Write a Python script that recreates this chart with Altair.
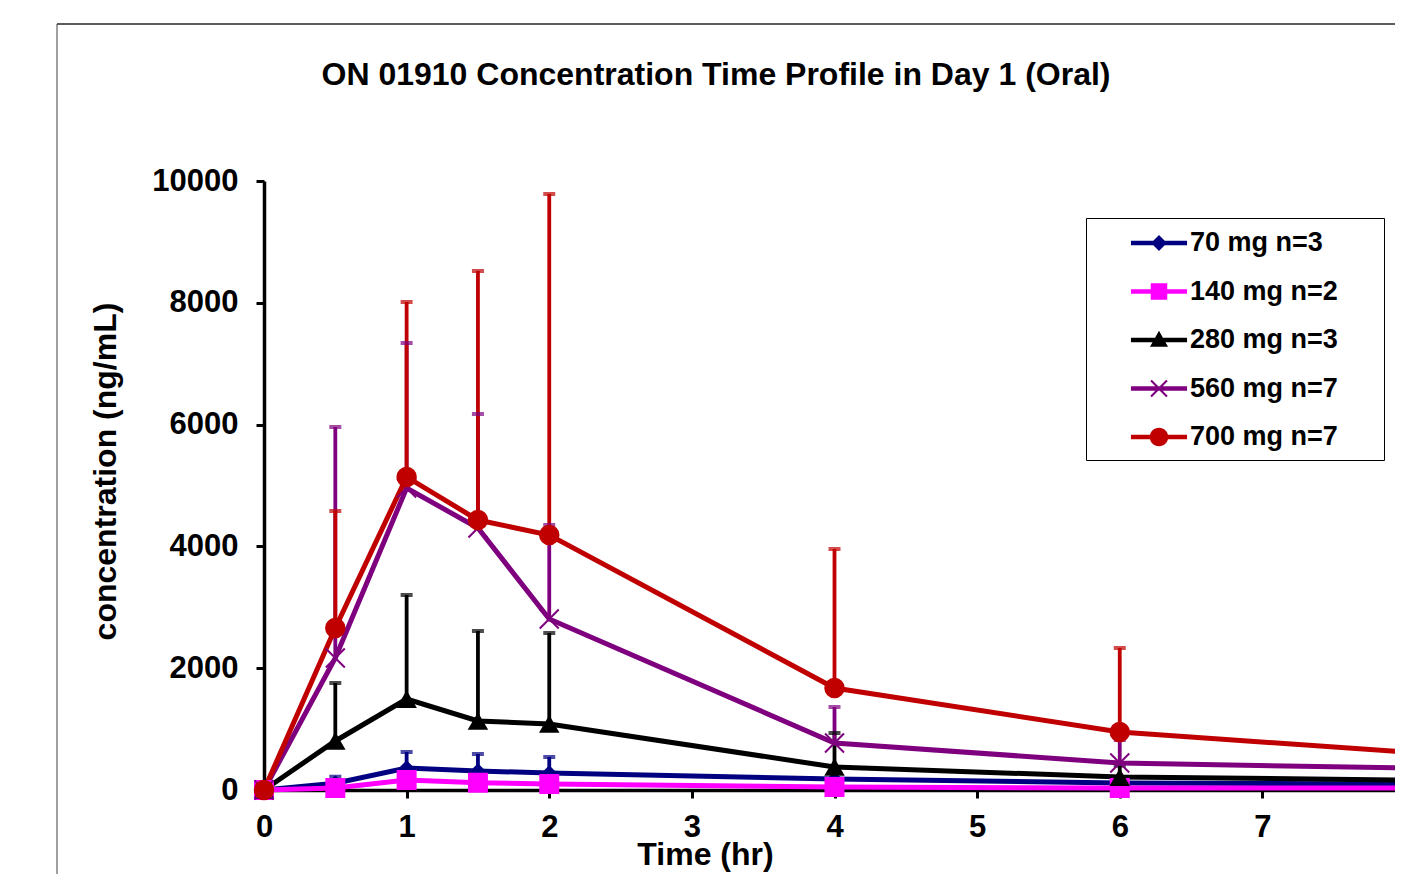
import altair as alt
import pandas as pd

# ---------------- data ----------------
times = [0, 0.5, 1, 1.5, 2, 4, 6, 8]
series_names = ["70 mg n=3", "140 mg n=2", "280 mg n=3", "560 mg n=7", "700 mg n=7"]

mean_70 = [0, 110, 361, 312, 279, 180, 115, 98]
upper_70 = [0, 218, 624, 591, 542, 290, 190, 150]
mean_140 = [0, 33, 164, 120, 98, 49, 33, 33]
upper_140 = [0, 50, 220, 170, 140, 80, 55, 50]
mean_280 = [0, 805, 1494, 1133, 1084, 378, 213, 164]
upper_280 = [0, 1757, 3202, 2611, 2578, 936, 400, 320]
mean_560 = [0, 2167, 4959, 4302, 2808, 772, 443, 361]
upper_560 = [0, 5961, 7340, 6174, 4351, 1363, 821, 575]
mean_700 = [0, 2660, 5140, 4433, 4187, 1675, 952, 624]
upper_700 = [0, 4581, 8013, 8522, 9787, 3957, 2332, 1478]

y_ticks = [0, 2000, 4000, 6000, 8000, 10000]
x_ticks = [0, 1, 2, 3, 4, 5, 6, 7, 8]
title_text = "ON 01910 Concentration Time Profile in Day 1 (Oral)"

colors = ["#000080", "#FF00FF", "#000000", "#7F007F", "#C00000"]

means = [mean_70, mean_140, mean_280, mean_560, mean_700]
uppers = [upper_70, upper_140, upper_280, upper_560, upper_700]
rows = []
for i, (name, ms, us) in enumerate(zip(series_names, means, uppers)):
    for t, m, u in zip(times, ms, us):
        rows.append({"series": name, "t": t, "mean": m, "upper": u, "k": i})
df = pd.DataFrame(rows)

FONT = "Liberation Sans"

# ---------------- scales / axes ----------------
xscale = alt.Scale(domain=[0, 8], range=[0, 1141], nice=False, zero=False)
yscale = alt.Scale(domain=[0, 10000], nice=False)
cscale = alt.Scale(domain=series_names, range=colors)

xaxis = alt.Axis(values=x_ticks, format="d", grid=False,
                 labelFont=FONT, labelFontSize=31, labelFontWeight="bold", labelColor="black",
                 labelPadding=14, labelFlush=False, labelOverlap=False,
                 domainColor="black", domainWidth=3.5, tickColor="black", tickWidth=3, tickSize=8,
                 title="Time (hr)", titleFont=FONT, titleFontSize=32, titleFontWeight="bold",
                 titleColor="black", titleX=441, titleY=74, titleAlign="center",
                 titleBaseline="alphabetic")
yaxis = alt.Axis(values=y_ticks, format="d", grid=False,
                 labelFont=FONT, labelFontSize=31, labelFontWeight="bold", labelColor="black",
                 labelPadding=18,
                 domainColor="black", domainWidth=3.5, tickColor="black", tickWidth=3, tickSize=8,
                 title="concentration (ng/mL)", titleFont=FONT, titleFontSize=32,
                 titleFontWeight="bold", titleColor="black", titleX=-159, titleY=290,
                 titleAngle=-90, titleAlign="center", titleBaseline="middle")

X = alt.X("t:Q", scale=xscale, axis=xaxis)
Y = alt.Y("mean:Q", scale=yscale, axis=yaxis)
C = alt.Color("series:N", scale=cscale)

base = alt.Chart(df)

# legend symbols: line with marker, as custom paths (unit = 15 px)
LINE = "M-1.87,-0.15L1.87,-0.15L1.87,0.15L-1.87,0.15Z"
legend_paths = [
    LINE + "M0,-0.53L0.53,0L0,0.53L-0.53,0Z",
    LINE + "M-0.55,-0.55L0.55,-0.55L0.55,0.55L-0.55,0.55Z",
    LINE + "M0,-0.62L0.6,0.45L-0.6,0.45Z",
    LINE + "M-0.48,-0.58L0.58,0.48L0.48,0.58L-0.58,-0.48Z"
           "M-0.58,0.48L0.48,-0.58L0.58,-0.48L-0.48,0.58Z",
    LINE + "M-0.62,0A0.62,0.62 0 1,1 0.62,0A0.62,0.62 0 1,1 -0.62,0Z",
]
spacer = "\u00a0" * 4
leg = alt.Legend(title=spacer, titleOrient="right", titlePadding=36, titleFontSize=27,
                 titleFont=FONT,
                 orient="none", legendX=822, legendY=37, direction="vertical",
                 fillColor="white", symbolOpacity=1, symbolSize=900,
                 symbolOffset=48, labelOffset=16,
                 labelFont=FONT, labelFontSize=27, labelFontWeight="bold", labelColor="black",
                 symbolStrokeWidth=0, labelLimit=400)
legend_layer = base.mark_point(filled=True, size=900, opacity=0).encode(
    x=X, y=Y,
    color=alt.Color("series:N", scale=cscale, legend=leg),
    shape=alt.Shape("series:N", scale=alt.Scale(domain=series_names, range=legend_paths), legend=leg))

# error bars (upper only) and caps
bars = base.transform_filter("datum.t > 0").mark_rule(strokeWidth=3.8).encode(
    x=X, y=Y, y2="upper:Q", color=C, order="k:Q")
caps = base.transform_filter("datum.t > 0").mark_tick(
    orient="horizontal", size=12, thickness=4).encode(
    x=X, y=alt.Y("upper:Q", scale=yscale, axis=yaxis), color=C, order="k:Q")

lines = base.mark_line(strokeWidth=5).encode(x=X, y=Y, color=C)

X_PATH = "M-1,-1L1,1M-1,1L1,-1"
point_shapes = ["diamond", "square", "triangle-up", X_PATH, "circle"]
point_sizes = [240, 400, 420, 360, 420]
point_layers = []
for i, name in enumerate(series_names):
    filled = i != 3
    pl = base.transform_filter(alt.datum.series == name).mark_point(
        shape=point_shapes[i], size=point_sizes[i], filled=filled, opacity=1,
        strokeWidth=2 if not filled else 0).encode(x=X, y=Y, color=C)
    point_layers.append(pl)

one = pd.DataFrame({"title": [title_text]})
title_layer = alt.Chart(one).mark_text(
    font=FONT, fontSize=32, fontWeight="bold", color="black", align="center",
    baseline="alphabetic").encode(text="title:N", x=alt.value(452), y=alt.value(-96))
frame_top = alt.Chart(one).mark_rule(color="#262626", strokeWidth=1.5).encode(
    x=alt.value(-207), x2=alt.value(1300), y=alt.value(-157))
frame_left = alt.Chart(one).mark_rule(color="#404040", strokeWidth=1).encode(
    x=alt.value(-207), y=alt.value(-157), y2=alt.value(900))

chart = alt.layer(legend_layer, frame_top, frame_left, title_layer, bars, caps, lines,
                  *point_layers).properties(
    width=1131, height=609,
    autosize=alt.AutoSizeParams(type="none"),
    padding={"left": 256, "top": 173, "right": 0, "bottom": 84},
    background="white",
).configure_view(strokeWidth=0).configure_legend(
    orient="none", legendX=822, legendY=37,
    strokeColor="black", strokeWidth=1, padding=10, rowPadding=20.5,
    symbolSize=900, symbolOpacity=1, symbolStrokeWidth=0)

chart.save("out.html", embed_options={"renderer": "svg", "actions": False})
